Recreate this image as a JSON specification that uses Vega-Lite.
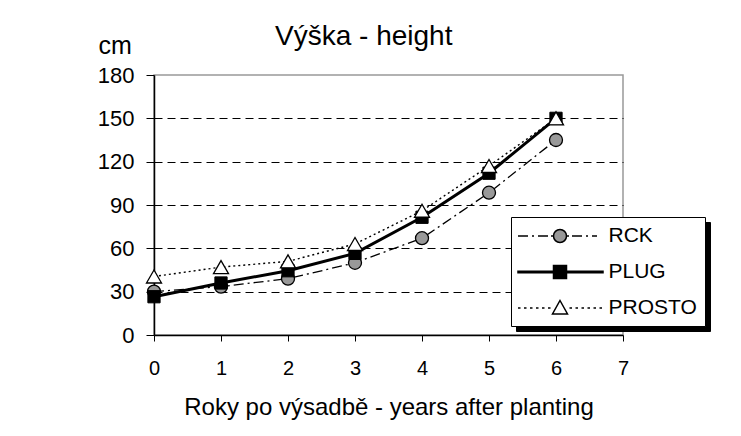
{
  "$schema": "https://vega.github.io/schema/vega-lite/v6.json",
  "autosize": "none",
  "width": 469,
  "height": 260,
  "padding": {"left": 154, "top": 75, "right": 118, "bottom": 101},
  "background": "white",
  "title": {"text": "Výška - height", "anchor": "start", "frame": "group", "dx": 121, "dy": 22, "fontSize": 28, "font": "Liberation Sans", "fontWeight": "normal", "color": "black", "offset": 4},
  "config": {
    "font": "Liberation Sans",
    "view": {"stroke": "#999999", "strokeWidth": 1.5},
    "axis": {"labelFont": "Liberation Sans", "titleFont": "Liberation Sans", "labelColor": "black", "titleColor": "black", "domainColor": "black", "tickColor": "black", "titleFontWeight": "normal"}
  },
  "data": {"values": [
    {"year": 0, "value": 30, "series": "RCK"},
    {"year": 1, "value": 33.5, "series": "RCK"},
    {"year": 2, "value": 39, "series": "RCK"},
    {"year": 3, "value": 50, "series": "RCK"},
    {"year": 4, "value": 67, "series": "RCK"},
    {"year": 5, "value": 98.5, "series": "RCK"},
    {"year": 6, "value": 135, "series": "RCK"},
    {"year": 0, "value": 26.5, "series": "PLUG"},
    {"year": 1, "value": 36, "series": "PLUG"},
    {"year": 2, "value": 44.5, "series": "PLUG"},
    {"year": 3, "value": 56.5, "series": "PLUG"},
    {"year": 4, "value": 81.5, "series": "PLUG"},
    {"year": 5, "value": 112, "series": "PLUG"},
    {"year": 6, "value": 150, "series": "PLUG"},
    {"year": 0, "value": 40.5, "series": "PROSTO"},
    {"year": 1, "value": 47, "series": "PROSTO"},
    {"year": 2, "value": 51, "series": "PROSTO"},
    {"year": 3, "value": 63, "series": "PROSTO"},
    {"year": 4, "value": 86, "series": "PROSTO"},
    {"year": 5, "value": 117, "series": "PROSTO"},
    {"year": 6, "value": 150, "series": "PROSTO"}
  ]},
  "encoding": {
    "x": {"field": "year", "type": "quantitative",
      "scale": {"domain": [0, 7], "nice": false, "zero": false},
      "axis": {"values": [0, 1, 2, 3, 4, 5, 6, 7], "grid": false, "labelFontSize": 20, "labelPadding": 17, "tickSize": 6, "domainWidth": 1.5, "title": "Roky po výsadbě - years after planting", "titleFontSize": 24, "titlePadding": 17, "labelFlush": false}},
    "y": {"field": "value", "type": "quantitative",
      "scale": {"domain": [0, 180], "nice": false},
      "axis": {"values": [0, 30, 60, 90, 120, 150, 180], "labelFontSize": 22, "tickSize": 8, "labelPadding": 12, "domainWidth": 1.5,
        "grid": true, "gridColor": "black", "gridDash": [8, 5], "gridWidth": 1,
        "gridOpacity": {"condition": {"test": "datum.value === 0 || datum.value === 180", "value": 0}, "value": 1},
        "title": "cm", "titleAngle": 0, "titleAlign": "left", "titleBaseline": "alphabetic", "titleX": -56, "titleY": -22, "titleFontSize": 25}}
  },
  "layer": [
    {
      "transform": [{"filter": "datum.series === 'RCK'"}],
      "mark": {"type": "line", "color": "black", "strokeWidth": 1.3, "strokeDash": [10, 4, 2, 4]}
    },
    {
      "transform": [{"filter": "datum.series === 'PLUG'"}],
      "mark": {"type": "line", "color": "black", "strokeWidth": 3}
    },
    {
      "transform": [{"filter": "datum.series === 'PROSTO'"}],
      "mark": {"type": "line", "color": "black", "strokeWidth": 1.4, "strokeDash": [2, 3]}
    },
    {
      "transform": [{"filter": "datum.series === 'RCK'"}],
      "mark": {"type": "point", "shape": "circle", "filled": true, "fill": "#999999", "stroke": "black", "strokeWidth": 1.3, "opacity": 1, "size": 169}
    },
    {
      "transform": [{"filter": "datum.series === 'PLUG'"}],
      "mark": {"type": "point", "shape": "square", "filled": true, "fill": "black", "stroke": "black", "strokeWidth": 1, "opacity": 1, "size": 150}
    },
    {
      "transform": [{"filter": "datum.series === 'PROSTO'"}],
      "mark": {"type": "point", "shape": "triangle-up", "filled": true, "fill": "white", "stroke": "black", "strokeWidth": 1.3, "opacity": 1, "size": 225}
    },
    {
      "mark": {"type": "point", "filled": true, "opacity": 0, "size": 400},
      "encoding": {
        "color": {"field": "series", "scale": {"domain": ["PROSTO", "RCK", "PLUG"], "range": ["black", "black", "black"]},
          "legend": {"title": null, "orient": "none", "legendX": 362, "legendY": 147, "strokeColor": "black", "fillColor": "black", "padding": 8, "labelFontSize": 21, "labelFont": "Liberation Sans", "labelColor": "black", "labelExpr": "''", "labelOffset": 126, "symbolOffset": 30, "symbolSize": 400, "symbolOpacity": 1, "symbolStrokeWidth": 1.5, "rowPadding": 15, "labelLimit": 250}}
      }
    },
    {
      "mark": {"type": "point", "filled": true, "strokeWidth": 1.5, "opacity": 0, "size": 400},
      "encoding": {
        "shape": {"field": "series", "scale": {"domain": ["RCK", "PLUG", "PROSTO"], "range": [
          "M-4.2,0H-3.2M-2.8,0H-2.6M-2.2,0H-1.2M-0.9,0H-0.65M0.65,0H0.9M1.2,0H2.2M2.6,0H2.8M3.2,0H3.7M-0.65,0A0.65,0.65 0 1,0 0.65,0A0.65,0.65 0 1,0 -0.65,0Z",
          "M-4.2,-0.08H4.3V0.08H-4.2ZM-0.65,-0.65H0.65V0.65H-0.65Z",
          "M-4.2,0H-3.95M-3.6,0H-3.35M-3,0H-2.75M-2.4,0H-2.15M-1.8,0H-1.55M-1.2,0H-0.95M0.95,0H1.2M1.55,0H1.8M2.15,0H2.4M2.75,0H3M3.35,0H3.6M3.95,0H4.2M0,-0.75L0.75,0.6L-0.75,0.6Z"
        ]},
          "legend": {"title": null, "orient": "none", "legendX": 357, "legendY": 142, "strokeColor": "black", "fillColor": "white", "padding": 8, "labelFontSize": 21, "labelFont": "Liberation Sans", "labelColor": "black", "labelOffset": 37.5, "symbolOffset": 30, "symbolSize": 400, "symbolOpacity": 1, "symbolStrokeWidth": 1.5, "rowPadding": 15, "labelLimit": 250}},
        "fill": {"field": "series", "scale": {"domain": ["RCK", "PLUG", "PROSTO"], "range": ["#999999", "black", "white"]}},
        "stroke": {"field": "series", "scale": {"domain": ["RCK", "PLUG", "PROSTO"], "range": ["black", "black", "black"]}}
      }
    }
  ]
}
